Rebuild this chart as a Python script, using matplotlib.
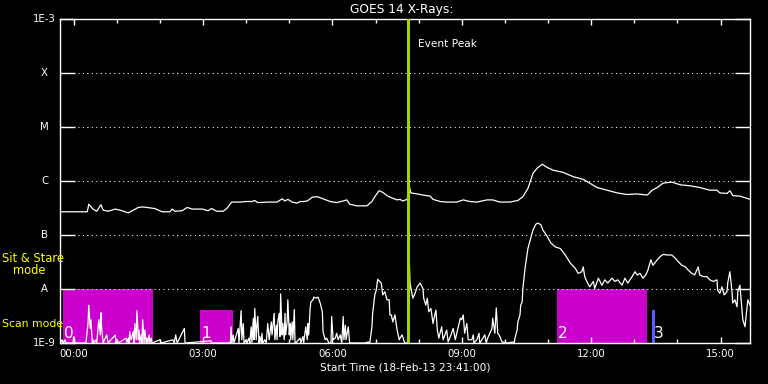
import numpy as np
import matplotlib
matplotlib.use("Agg")
import matplotlib.pyplot as plt
from matplotlib.ticker import FixedLocator, FuncFormatter, NullLocator

# times are minutes after the plot start, 18-Feb-13 23:41:00
START_MIN_OF_DAY = 23 * 60 + 41
SPAN_MIN = 960

# GOES 14 long channel (1-8 A), log10 flux
long_t = [0, 21, 38, 40, 46, 51, 57, 60, 67, 77,
          86, 95, 102, 109, 115, 132, 142, 153, 156, 160,
          170, 177, 184, 198, 206, 211, 218, 227, 232, 239,
          253, 257, 267, 271, 275, 289, 302, 309, 313, 317,
          323, 330, 334, 339, 344, 351, 358, 366, 376, 385,
          394, 399, 403, 413, 427, 434, 438, 444, 449, 456,
          463, 469, 473, 477, 483, 486, 488, 497, 505, 515,
          519, 529, 538, 552, 561, 570, 580, 594, 602, 612,
          626, 637, 644, 651, 658, 664, 671, 678, 686, 700,
          714, 728, 737, 747, 761, 775, 789, 803, 817, 824,
          831, 839, 851, 863, 877, 890, 904, 914, 918, 928,
          932, 936, 946, 960]
long_log = [-6.57, -6.57, -6.57, -6.43, -6.52, -6.56, -6.44, -6.54, -6.56, -6.52,
            -6.55, -6.59, -6.54, -6.49, -6.48, -6.51, -6.57, -6.57, -6.52, -6.56,
            -6.55, -6.49, -6.52, -6.52, -6.55, -6.51, -6.56, -6.56, -6.51, -6.39,
            -6.39, -6.38, -6.38, -6.36, -6.40, -6.39, -6.39, -6.33, -6.37, -6.34,
            -6.39, -6.41, -6.38, -6.38, -6.37, -6.30, -6.29, -6.33, -6.38, -6.40,
            -6.37, -6.35, -6.43, -6.46, -6.46, -6.38, -6.29, -6.18, -6.21, -6.28,
            -6.32, -6.35, -6.34, -6.37, -6.34, -6.09, -6.22, -6.24, -6.26, -6.28,
            -6.34, -6.38, -6.39, -6.39, -6.35, -6.38, -6.39, -6.35, -6.35, -6.39,
            -6.39, -6.36, -6.29, -6.14, -5.86, -5.76, -5.69, -5.75, -5.80, -5.84,
            -5.92, -5.97, -6.04, -6.12, -6.17, -6.22, -6.25, -6.24, -6.26, -6.17,
            -6.12, -6.04, -6.02, -6.07, -6.09, -6.12, -6.17, -6.17, -6.22, -6.23,
            -6.18, -6.27, -6.28, -6.34]

# GOES 14 short channel (0.5-4 A), log10 flux, -9.0 = floor of the plot
short_t = [0, 3, 4, 7, 8, 18, 19, 21, 36, 39,
           40, 42, 43, 45, 46, 47, 50, 51, 54, 56,
           57, 58, 60, 65, 67, 77, 78, 79, 81, 92,
           93, 95, 96, 97, 99, 102, 103, 104, 106, 107,
           109, 110, 111, 113, 114, 115, 117, 118, 120, 121,
           122, 124, 125, 127, 128, 139, 141, 157, 159, 161,
           163, 173, 174, 210, 211, 237, 238, 239, 241, 242,
           248, 249, 252, 253, 255, 256, 259, 260, 263, 264,
           266, 267, 269, 270, 271, 273, 274, 275, 277, 278,
           280, 281, 282, 285, 287, 289, 291, 294, 295, 298,
           299, 301, 302, 303, 305, 306, 307, 309, 310, 312,
           313, 314, 316, 317, 319, 320, 321, 323, 324, 326,
           327, 328, 334, 335, 338, 339, 342, 344, 345, 346,
           348, 349, 352, 353, 356, 359, 362, 365, 366, 369,
           371, 374, 377, 378, 380, 383, 385, 387, 390, 392,
           394, 395, 397, 398, 401, 402, 403, 424, 429, 431,
           434, 435, 438, 440, 442, 444, 447, 449, 452, 455,
           458, 459, 461, 463, 466, 469, 472, 473, 476, 479,
           481, 484, 486, 487, 490, 491, 494, 497, 501, 505,
           506, 509, 511, 513, 516, 519, 520, 523, 525, 527,
           531, 533, 538, 540, 544, 547, 550, 552, 557, 559,
           561, 563, 566, 568, 573, 575, 576, 580, 583, 584,
           587, 591, 593, 595, 601, 602, 605, 607, 609, 611,
           615, 622, 630, 632, 633, 636, 637, 640, 641, 643,
           644, 647, 651, 655, 658, 662, 665, 669, 672, 678,
           683, 689, 696, 703, 710, 717, 721, 726, 728, 730,
           733, 737, 742, 744, 749, 754, 758, 762, 768, 772,
           776, 782, 786, 790, 796, 800, 803, 807, 811, 815,
           818, 822, 825, 831, 835, 839, 845, 851, 856, 860,
           865, 870, 874, 879, 883, 888, 890, 895, 900, 904,
           909, 914, 915, 918, 921, 924, 928, 929, 932, 935,
           936, 939, 942, 943, 946, 949, 950, 953, 956, 957,
           960]
short_log = [-9.0, -8.94, -9.0, -8.94, -9.0, -9.0, -8.88, -9.0, -9.0, -8.64,
             -8.30, -8.73, -8.57, -9.0, -8.94, -9.0, -8.94, -9.0, -8.57, -8.85,
             -8.44, -8.73, -9.0, -8.85, -9.0, -8.85, -9.0, -8.94, -9.0, -8.91,
             -9.0, -8.91, -9.0, -8.79, -8.94, -8.79, -9.0, -8.64, -8.94, -8.40,
             -8.94, -8.76, -9.0, -8.85, -9.0, -8.57, -9.0, -8.76, -9.0, -8.91,
             -9.0, -8.85, -9.0, -8.91, -9.0, -8.94, -9.0, -8.94, -9.0, -8.85,
             -9.0, -8.73, -9.0, -8.96, -9.0, -9.0, -8.70, -9.0, -8.85, -9.0,
             -8.73, -9.0, -8.40, -8.94, -8.64, -9.0, -8.94, -9.0, -8.91, -9.0,
             -8.70, -9.0, -8.54, -8.94, -8.36, -8.94, -8.67, -8.51, -9.0, -8.88,
             -9.0, -8.82, -9.0, -8.94, -9.0, -8.64, -8.94, -8.61, -8.85, -8.45,
             -8.94, -8.67, -8.94, -8.61, -8.45, -8.88, -8.09, -8.85, -8.64, -8.94,
             -8.45, -8.85, -8.61, -8.20, -8.85, -8.64, -8.94, -8.61, -8.94, -8.38,
             -9.0, -9.0, -8.91, -9.0, -8.88, -9.0, -8.70, -8.94, -8.64, -8.85,
             -8.36, -8.24, -8.20, -8.15, -8.17, -8.15, -8.26, -8.42, -8.79, -8.94,
             -8.91, -9.0, -9.0, -8.51, -8.94, -8.91, -8.82, -8.94, -8.85, -9.0,
             -8.51, -8.94, -8.67, -8.94, -8.70, -8.85, -9.0, -9.0, -8.98, -9.0,
             -8.70, -8.45, -8.11, -8.02, -7.82, -7.85, -7.89, -8.11, -8.05, -8.20,
             -8.20, -8.48, -8.48, -8.61, -8.48, -8.76, -8.94, -8.91, -8.85, -8.98,
             -9.0, -9.0, -7.49, -7.89, -8.11, -8.17, -8.08, -7.96, -7.89, -7.99,
             -8.17, -8.30, -8.17, -8.42, -8.36, -8.64, -8.57, -8.39, -8.76, -8.91,
             -8.70, -8.94, -8.76, -8.98, -8.85, -8.73, -8.94, -8.82, -8.54, -8.57,
             -8.48, -8.82, -8.64, -8.94, -8.94, -8.85, -9.0, -8.94, -8.82, -9.0,
             -8.94, -8.85, -9.0, -8.91, -8.73, -8.54, -8.82, -8.35, -8.82, -8.85,
             -8.98, -9.0, -8.98, -9.0, -8.91, -8.76, -8.61, -8.48, -8.30, -8.24,
             -7.99, -7.62, -7.25, -7.06, -6.91, -6.80, -6.78, -6.81, -6.91, -7.03,
             -7.15, -7.22, -7.25, -7.37, -7.52, -7.62, -7.71, -7.68, -7.59, -7.77,
             -7.86, -7.96, -7.86, -7.99, -7.80, -7.93, -7.83, -7.89, -7.80, -7.86,
             -7.83, -7.93, -7.80, -7.89, -7.77, -7.68, -7.74, -7.71, -7.80, -7.74,
             -7.65, -7.46, -7.56, -7.46, -7.40, -7.36, -7.37, -7.37, -7.43, -7.49,
             -7.56, -7.59, -7.65, -7.71, -7.74, -7.59, -7.74, -7.77, -7.77, -7.83,
             -7.86, -7.83, -8.02, -8.08, -7.96, -8.11, -8.05, -7.89, -7.68, -8.05,
             -8.26, -8.20, -8.33, -8.05, -7.93, -8.42, -8.57, -8.70, -8.33, -8.20,
             -8.30]

event_peak_t = 484

# observing blocks (scan mode) and their numbers
scan_start = [4, 195, 691, 824]
scan_end = [129, 241, 817, 828]
scan_top = [1e-8, 4e-9, 1e-8, 4e-9]
scan_names = ["0", "1", "2", "3"]
scan_colors = ["#cc00cc", "#cc00cc", "#cc00cc", "#5a5aff"]

level_flux = [1e-9, 1e-8, 1e-7, 1e-6, 1e-5, 1e-4, 1e-3]
level_names = ["1E-9", "A", "B", "C", "M", "X", "1E-3"]


def clock(m, pos=None):
    total = int(round(START_MIN_OF_DAY + m)) % 1440
    return f"{total // 60:02d}:{total % 60:02d}"


plt.rcParams["font.family"] = ["DejaVu Sans"]
W, H = 768, 384
fig = plt.figure(figsize=(W / 100, H / 100), dpi=100, facecolor="black")
ax = fig.add_axes([60 / W, 1 - 343 / H, 690 / W, 324 / H])
ax.set_facecolor("black")
ax.set_yscale("log")
ax.set_xlim(0, SPAN_MIN)
ax.set_ylim(1e-9, 1e-3)

# scan blocks
widths = np.array(scan_end) - np.array(scan_start)
heights = np.array(scan_top) - 1e-9
ax.bar(scan_start, heights, width=widths, bottom=1e-9, align="edge",
       color=scan_colors, linewidth=0, zorder=1)
for t0, name in zip(scan_start, scan_names):
    ax.text(t0 + 1.5, 1.07e-9, name, color="white", fontsize=11,
            ha="left", va="bottom", zorder=4)

# dotted class levels
for f in level_flux[1:-1]:
    ax.axhline(f, color="white", lw=0.75, ls=(0, (1, 3.3)), zorder=2)

ax.plot(long_t, 10 ** np.array(long_log), color="white", lw=0.9, zorder=3)
ax.plot(short_t, 10 ** np.array(short_log), color="white", lw=0.9, zorder=3)

ax.axvline(event_peak_t, color="#a2d400", lw=2.2, zorder=5)
fig.text(418 / W, 1 - 44 / H, "Event Peak", color="white", fontsize=7.6,
         ha="left", va="center")

# axes styling
for sp in ax.spines.values():
    sp.set_color("white")
    sp.set_linewidth(1.0)

ax.yaxis.set_major_locator(FixedLocator(level_flux))
ax.yaxis.set_minor_locator(NullLocator())
ax.tick_params(axis="y", which="major", direction="in", length=10.5, width=1.0,
               color="white", left=True, right=True, labelleft=False)
for f, name in zip(level_flux, level_names):
    ax.text(-0.0225, f, name, transform=ax.get_yaxis_transform(), color="white",
            fontsize=7.3, ha="center", va="center")

major_x = [19 + 180 * k for k in range(6)]
minor_x = [19 + 60 * k for k in range(16)]
ax.xaxis.set_major_locator(FixedLocator(major_x))
ax.xaxis.set_minor_locator(FixedLocator(minor_x))
ax.xaxis.set_major_formatter(FuncFormatter(clock))
ax.tick_params(axis="x", which="major", direction="in", length=4.5, width=1.0,
               color="white", top=True, bottom=True, labelcolor="white",
               labelsize=7.3, pad=4.5)
ax.tick_params(axis="x", which="minor", direction="in", length=2.8, width=1.0,
               color="white", top=True, bottom=True)

fig.text(405 / W, 1 - 368 / H, "Start Time (18-Feb-13 23:41:00)", color="white",
         fontsize=7.6, ha="center", va="center")
fig.text(402 / W, 1 - 10 / H, "GOES 14 X-Rays:", color="white", fontsize=8.8,
         ha="center", va="center")

# mode annotations on the left
fig.text(2 / W, 1 - 259 / H, "Sit & Stare", color="yellow", fontsize=8.3,
         ha="left", va="center")
fig.text(13 / W, 1 - 271 / H, "mode", color="yellow", fontsize=8.3,
         ha="left", va="center")
fig.text(2 / W, 1 - 324 / H, "Scan mode", color="yellow", fontsize=7.8,
         ha="left", va="center")

fig.savefig("out.png", dpi=100, facecolor="black")
